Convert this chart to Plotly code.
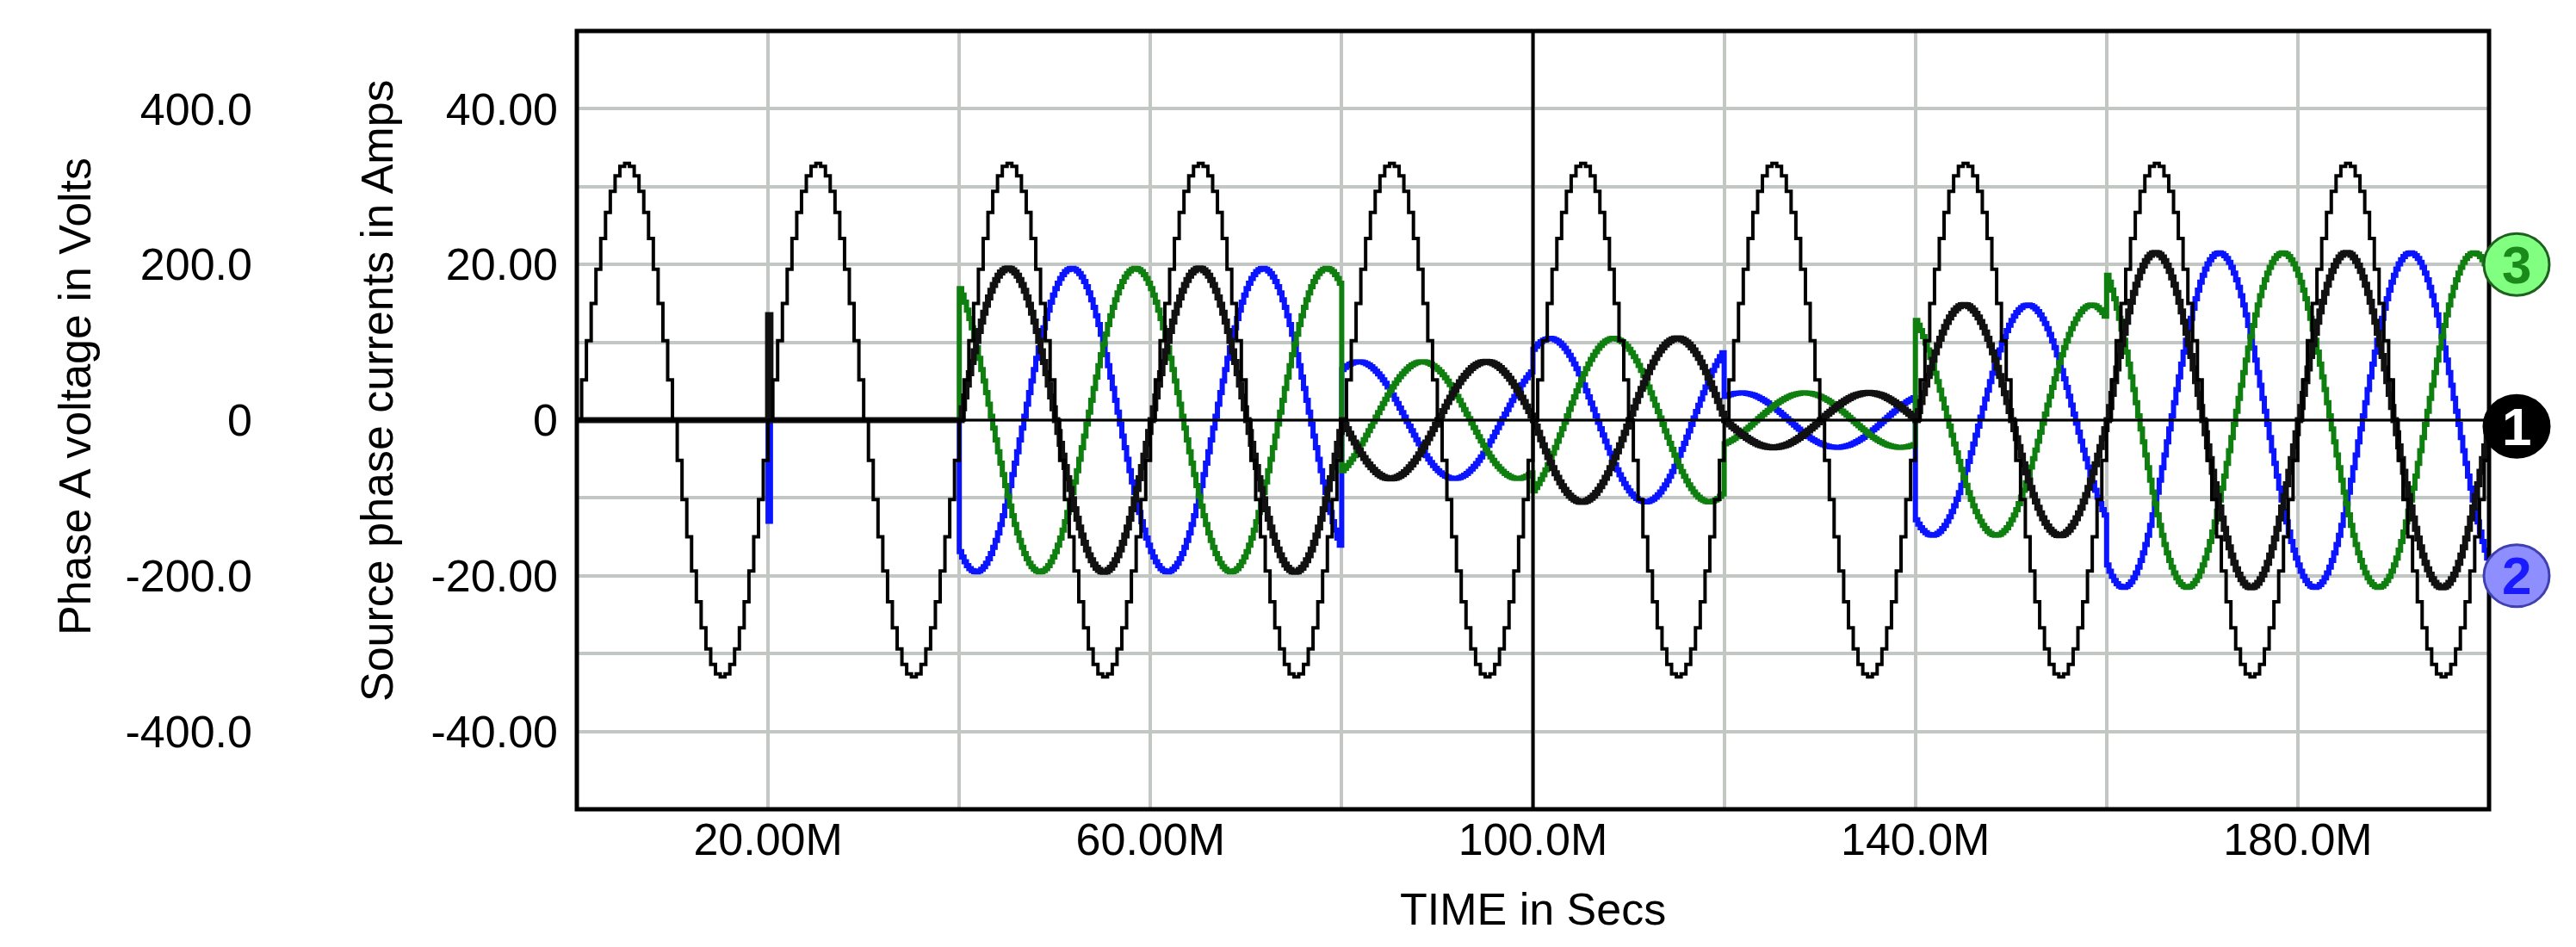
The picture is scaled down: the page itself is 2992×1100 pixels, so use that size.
import numpy as np
import plotly.graph_objects as go

# ---- data ----
seg_edges_ms = [0, 40, 80, 100, 120, 140, 160, 200]        # current segments (ms)
seg_amp_A = [0.0, 19.5, -7.5, -10.5, -3.5, 14.8, 21.5]     # current amplitude per segment (A)
phase_deg = {"A": 0.0, "B": -120.0, "C": 120.0}            # phase shifts
volt_peak = 330.0                                          # phase A voltage peak (V)
freq_hz = 50.0
spike_t_ms = [20.0]
spike_A = [13.5]
spike_B = [-13.0]
x_tick_vals = [20, 60, 100, 140, 180]
x_tick_text = ["20.00M", "60.00M", "100.0M", "140.0M", "180.0M"]
i_tick_vals = [-40, -20, 0, 20, 40]
i_tick_text = ["-40.00", "-20.00", "0", "20.00", "40.00"]
v_tick_vals = [-400, -200, 0, 200, 400]
v_tick_text = ["-400.0", "-200.0", "0", "200.0", "400.0"]
trace_ids = ["3", "1", "2"]
trace_id_levels = [20.0, -0.8, -20.0]

W, H = 2992, 1100
FONT = "Liberation Sans, Arial, sans-serif"

t_v = np.arange(0, 200.0001, 0.5)
v = volt_peak * np.sin(2 * np.pi * freq_hz * t_v / 1000)

t_i = np.arange(0, 200.0001, 0.25)
amp = np.zeros_like(t_i)
for k in range(len(seg_amp_A)):
    m = (t_i >= seg_edges_ms[k]) & (t_i < seg_edges_ms[k + 1] + 1e-9)
    amp[m] = seg_amp_A[k]

def cur(ph):
    return amp * np.sin(2 * np.pi * freq_hz * t_i / 1000 + np.deg2rad(phase_deg[ph]))

iA, iB, iC = cur("A"), cur("B"), cur("C")
for ts, sa, sb in zip(spike_t_ms, spike_A, spike_B):
    j = int(np.argmin(np.abs(t_i - ts)))
    iA[j] = sa
    iB[j] = sb

fig = go.Figure()
fig.add_trace(go.Scatter(x=t_v, y=v, yaxis="y2", mode="lines", line=dict(color="black", width=4, shape="hv")))
fig.add_trace(go.Scatter(x=t_i, y=iB, mode="lines", line=dict(color="#0a14ff", width=6, shape="hv")))
fig.add_trace(go.Scatter(x=t_i, y=iC, mode="lines", line=dict(color="#0f7f0f", width=6, shape="hv")))
fig.add_trace(go.Scatter(x=t_i, y=iA, mode="lines", line=dict(color="#111111", width=7, shape="hv")))

x0, x1 = 662 / W, 2883 / W
y0, y1 = 1 - 932 / H, 1 - 28 / H
grid = "#c3c7c3"
tf = dict(family=FONT, size=52, color="black")

fig.update_layout(
    width=W, height=H, showlegend=False,
    paper_bgcolor="white", plot_bgcolor="white",
    margin=dict(l=0, r=0, t=0, b=0, autoexpand=False),
    xaxis=dict(domain=[x0, x1], range=[0, 200], tickvals=x_tick_vals, ticktext=x_tick_text,
               showgrid=True, gridcolor=grid, gridwidth=4, zeroline=False, ticks="",
               tickfont=tf, automargin=False,
               minor=dict(tickvals=[40, 80, 120, 160], showgrid=True, gridcolor=grid, gridwidth=4)),
    yaxis=dict(domain=[y0, y1], range=[-50, 50], tickvals=i_tick_vals, ticktext=i_tick_text,
               anchor="free", position=640 / W, showgrid=True, gridcolor=grid, gridwidth=4,
               zeroline=False, ticks="", tickfont=tf, automargin=False,
               minor=dict(tickvals=[-30, -10, 10, 30], showgrid=True, gridcolor=grid, gridwidth=4)),
    yaxis2=dict(overlaying="y", range=[-500, 500], tickvals=v_tick_vals, ticktext=v_tick_text,
                anchor="free", position=285 / W, side="left", showgrid=False, zeroline=False,
                ticks="", tickfont=tf, automargin=False),
)

shapes = [
    dict(type="line", xref="x", yref="y", x0=0, x1=200, y0=0, y1=0, line=dict(color="black", width=3),
         layer="above"),
    dict(type="line", xref="x", yref="paper", x0=100, x1=100, y0=y0, y1=y1, line=dict(color="black", width=4),
         layer="above"),
    dict(type="rect", xref="paper", yref="paper", x0=x0, x1=x1, y0=y0, y1=y1, line=dict(color="black", width=5)),
]
styles = [("#80ff80", "#1f5f1f", "#1a8a1a"), ("black", "black", "white"), ("#8e8eff", "#4040b0", "#1a1aff")]
cx = 2915 / W
for txt, yc, (fill, edge, tcol) in zip(trace_ids, trace_id_levels, styles):
    shapes.append(dict(type="circle", xref="paper", yref="y", xsizemode="pixel", ysizemode="pixel",
                       xanchor=cx, yanchor=yc, x0=-38, x1=38, y0=-36, y1=36,
                       fillcolor=fill, line=dict(color=edge, width=3), layer="above"))
    fig.add_annotation(xref="paper", yref="y", x=cx, y=yc, xanchor="center", yanchor="middle",
                       text=f"<b>{txt}</b>", showarrow=False,
                       font=dict(family=FONT, size=62, color=tcol))
fig.update_layout(shapes=shapes)

fig.add_annotation(xref="paper", yref="paper", x=48 / W, y=1 - 453 / H, text="Phase A voltage in Volts",
                   textangle=-90, showarrow=False, font=tf)
fig.add_annotation(xref="paper", yref="paper", x=399 / W, y=1 - 446 / H, text="Source phase currents in Amps",
                   textangle=-90, showarrow=False, font=tf)
fig.add_annotation(xref="paper", yref="paper", x=(662 + 2883) / 2 / W, y=1 - 1048 / H, yanchor="middle",
                   text="TIME in Secs", showarrow=False, font=tf)

fig.write_html("out.html")
